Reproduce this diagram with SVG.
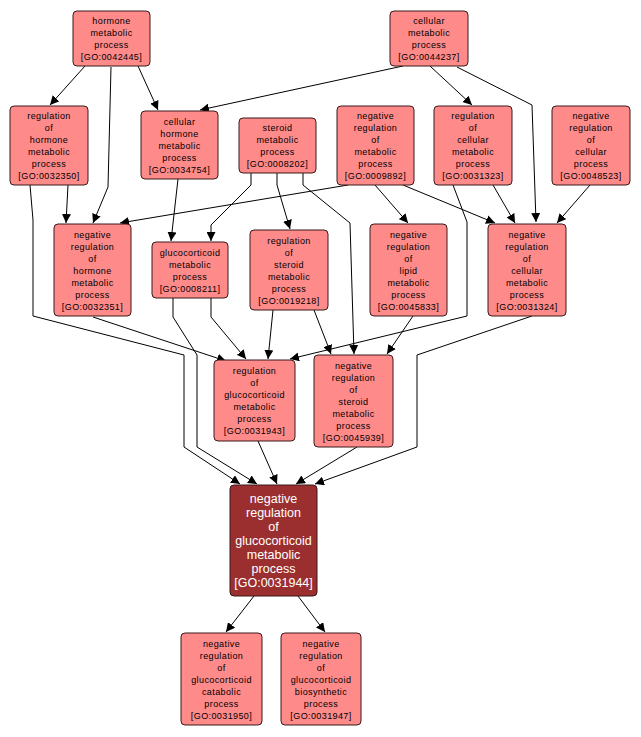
<svg xmlns="http://www.w3.org/2000/svg" width="641" height="737" viewBox="0 0 641 737">
<style>
.n rect{fill:#ff8a8a;stroke:#3a1a1a;stroke-width:1}
.n text{font-family:"Liberation Sans",Arial,sans-serif;font-size:9px;letter-spacing:0.4px;text-anchor:middle;fill:#000}
#P rect{fill:#9b2f2f}
#P text{font-size:12.5px;letter-spacing:0;fill:#fff}
#edges path{fill:none;stroke:#000;stroke-width:1;marker-end:url(#a)}
</style>
<defs><marker id="a" viewBox="0 0 10 10" refX="10" refY="5" markerWidth="9" markerHeight="9" markerUnits="userSpaceOnUse" orient="auto"><path d="M0,0L10,5L0,10z" fill="#000"/></marker></defs>
<rect width="641" height="737" fill="#fff"/>
<g id="edges">
<path d="M85,66L50,105"/>
<path d="M111,67L108,187L93,223"/>
<path d="M138,66L158,110"/>
<path d="M403,66L200,110"/>
<path d="M430,66L472,105"/>
<path d="M457,67L532,105L536,222"/>
<path d="M68,185L66,223"/>
<path d="M30,185L33,220L33,316L184,355L184,447L240,484"/>
<path d="M93,317L226,361"/>
<path d="M178,179L171,241"/>
<path d="M251,173L251,185L211,225L211,241"/>
<path d="M277,173L277,185L290,229"/>
<path d="M303,173L303,185L350,223L354,354"/>
<path d="M348,185L120,223"/>
<path d="M375,185L408,223"/>
<path d="M403,185L495,223"/>
<path d="M493,185L515,223"/>
<path d="M590,185L557,223"/>
<path d="M173,298L173,317L197,355L197,447L257,484"/>
<path d="M211,298L211,317L246,359"/>
<path d="M273,310L268,359"/>
<path d="M314,310L331,354"/>
<path d="M413,316L387,354"/>
<path d="M453,185L467,222L467,316L290,359"/>
<path d="M532,316L417,355L417,447L315,484"/>
<path d="M258,441L277,484"/>
<path d="M357,447L296,484"/>
<path d="M254,596L226,632"/>
<path d="M298,596L325,632"/>
</g>
<g id="A" class="n"><rect x="73" y="11" width="77" height="55" rx="4"/><text x="111.5" y="24">hormone<tspan x="111.5" dy="12">metabolic</tspan><tspan x="111.5" dy="12">process</tspan><tspan x="111.5" dy="12">[GO:0042445]</tspan></text></g>
<g id="B" class="n"><rect x="390" y="11" width="78" height="55" rx="4"/><text x="429" y="24">cellular<tspan x="429" dy="12">metabolic</tspan><tspan x="429" dy="12">process</tspan><tspan x="429" dy="12">[GO:0044237]</tspan></text></g>
<g id="C" class="n"><rect x="10" y="106" width="78" height="79" rx="4"/><text x="49" y="119">regulation<tspan x="49" dy="12">of</tspan><tspan x="49" dy="12">hormone</tspan><tspan x="49" dy="12">metabolic</tspan><tspan x="49" dy="12">process</tspan><tspan x="49" dy="12">[GO:0032350]</tspan></text></g>
<g id="D" class="n"><rect x="141" y="111" width="77" height="68" rx="4"/><text x="179.5" y="124.5">cellular<tspan x="179.5" dy="12">hormone</tspan><tspan x="179.5" dy="12">metabolic</tspan><tspan x="179.5" dy="12">process</tspan><tspan x="179.5" dy="12">[GO:0034754]</tspan></text></g>
<g id="E" class="n"><rect x="239" y="118" width="77" height="55" rx="4"/><text x="277.5" y="131">steroid<tspan x="277.5" dy="12">metabolic</tspan><tspan x="277.5" dy="12">process</tspan><tspan x="277.5" dy="12">[GO:0008202]</tspan></text></g>
<g id="F" class="n"><rect x="337" y="106" width="77" height="79" rx="4"/><text x="375.5" y="119">negative<tspan x="375.5" dy="12">regulation</tspan><tspan x="375.5" dy="12">of</tspan><tspan x="375.5" dy="12">metabolic</tspan><tspan x="375.5" dy="12">process</tspan><tspan x="375.5" dy="12">[GO:0009892]</tspan></text></g>
<g id="G" class="n"><rect x="434" y="106" width="78" height="79" rx="4"/><text x="473" y="119">regulation<tspan x="473" dy="12">of</tspan><tspan x="473" dy="12">cellular</tspan><tspan x="473" dy="12">metabolic</tspan><tspan x="473" dy="12">process</tspan><tspan x="473" dy="12">[GO:0031323]</tspan></text></g>
<g id="H" class="n"><rect x="552" y="106" width="78" height="79" rx="4"/><text x="591" y="119">negative<tspan x="591" dy="12">regulation</tspan><tspan x="591" dy="12">of</tspan><tspan x="591" dy="12">cellular</tspan><tspan x="591" dy="12">process</tspan><tspan x="591" dy="12">[GO:0048523]</tspan></text></g>
<g id="I" class="n"><rect x="54" y="224" width="77" height="92" rx="4"/><text x="92.5" y="237.5">negative<tspan x="92.5" dy="12">regulation</tspan><tspan x="92.5" dy="12">of</tspan><tspan x="92.5" dy="12">hormone</tspan><tspan x="92.5" dy="12">metabolic</tspan><tspan x="92.5" dy="12">process</tspan><tspan x="92.5" dy="12">[GO:0032351]</tspan></text></g>
<g id="J" class="n"><rect x="152" y="242" width="76" height="56" rx="4"/><text x="190" y="255.5">glucocorticoid<tspan x="190" dy="12">metabolic</tspan><tspan x="190" dy="12">process</tspan><tspan x="190" dy="12">[GO:0008211]</tspan></text></g>
<g id="K" class="n"><rect x="250" y="230" width="78" height="80" rx="4"/><text x="289" y="243.5">regulation<tspan x="289" dy="12">of</tspan><tspan x="289" dy="12">steroid</tspan><tspan x="289" dy="12">metabolic</tspan><tspan x="289" dy="12">process</tspan><tspan x="289" dy="12">[GO:0019218]</tspan></text></g>
<g id="L" class="n"><rect x="370" y="224" width="77" height="92" rx="4"/><text x="408.5" y="237.5">negative<tspan x="408.5" dy="12">regulation</tspan><tspan x="408.5" dy="12">of</tspan><tspan x="408.5" dy="12">lipid</tspan><tspan x="408.5" dy="12">metabolic</tspan><tspan x="408.5" dy="12">process</tspan><tspan x="408.5" dy="12">[GO:0045833]</tspan></text></g>
<g id="M" class="n"><rect x="488" y="224" width="78" height="92" rx="4"/><text x="527" y="237.5">negative<tspan x="527" dy="12">regulation</tspan><tspan x="527" dy="12">of</tspan><tspan x="527" dy="12">cellular</tspan><tspan x="527" dy="12">metabolic</tspan><tspan x="527" dy="12">process</tspan><tspan x="527" dy="12">[GO:0031324]</tspan></text></g>
<g id="N" class="n"><rect x="214" y="360" width="81" height="81" rx="4"/><text x="254.5" y="374">regulation<tspan x="254.5" dy="12">of</tspan><tspan x="254.5" dy="12">glucocorticoid</tspan><tspan x="254.5" dy="12">metabolic</tspan><tspan x="254.5" dy="12">process</tspan><tspan x="254.5" dy="12">[GO:0031943]</tspan></text></g>
<g id="O" class="n"><rect x="314" y="355" width="79" height="92" rx="4"/><text x="353.5" y="368.5">negative<tspan x="353.5" dy="12">regulation</tspan><tspan x="353.5" dy="12">of</tspan><tspan x="353.5" dy="12">steroid</tspan><tspan x="353.5" dy="12">metabolic</tspan><tspan x="353.5" dy="12">process</tspan><tspan x="353.5" dy="12">[GO:0045939]</tspan></text></g>
<g id="P" class="n"><rect x="230" y="485" width="87" height="111" rx="4"/><text x="273.5" y="503">negative<tspan x="273.5" dy="14">regulation</tspan><tspan x="273.5" dy="14">of</tspan><tspan x="273.5" dy="14">glucocorticoid</tspan><tspan x="273.5" dy="14">metabolic</tspan><tspan x="273.5" dy="14">process</tspan><tspan x="273.5" dy="14">[GO:0031944]</tspan></text></g>
<g id="Q" class="n"><rect x="181" y="633" width="81" height="92" rx="4"/><text x="221.5" y="646.5">negative<tspan x="221.5" dy="12">regulation</tspan><tspan x="221.5" dy="12">of</tspan><tspan x="221.5" dy="12">glucocorticoid</tspan><tspan x="221.5" dy="12">catabolic</tspan><tspan x="221.5" dy="12">process</tspan><tspan x="221.5" dy="12">[GO:0031950]</tspan></text></g>
<g id="R" class="n"><rect x="281" y="633" width="80" height="92" rx="4"/><text x="321" y="646.5">negative<tspan x="321" dy="12">regulation</tspan><tspan x="321" dy="12">of</tspan><tspan x="321" dy="12">glucocorticoid</tspan><tspan x="321" dy="12">biosynthetic</tspan><tspan x="321" dy="12">process</tspan><tspan x="321" dy="12">[GO:0031947]</tspan></text></g>
</svg>
